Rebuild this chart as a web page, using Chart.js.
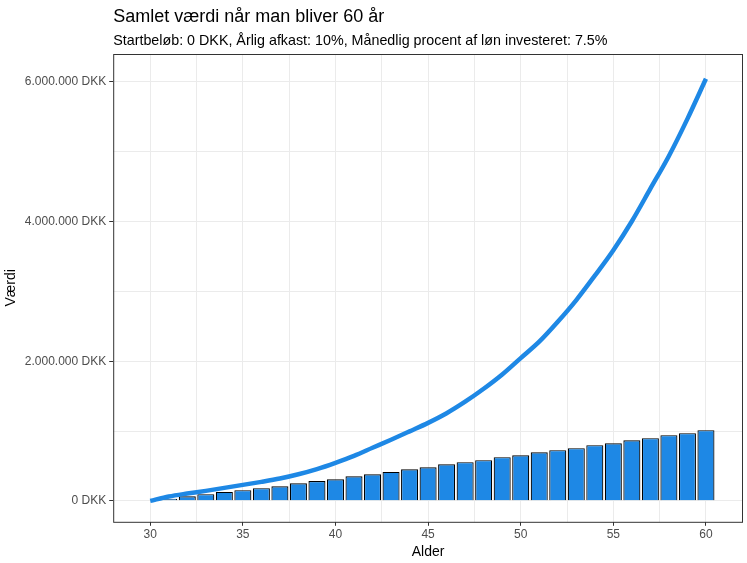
<!DOCTYPE html>
<html>
<head>
<meta charset="utf-8">
<script src="https://cdn.jsdelivr.net/npm/chart.js@4/dist/chart.umd.min.js"></script>
<style>
  body { margin: 0; background: #fff; }
  #wrap { width: 747px; height: 563px; position: relative; }
</style>
</head>
<body>
<div id="wrap"><canvas id="valueChart"></canvas></div>
<script>
// ages on the x axis
const ages = [30, 31, 32, 33, 34, 35, 36, 37, 38, 39, 40, 41, 42, 43, 44, 45,
              46, 47, 48, 49, 50, 51, 52, 53, 54, 55, 56, 57, 58, 59, 60];

// amount paid in (bars)
const paidIn = [0, 29000, 67000, 96000, 128000, 153000, 182000, 210000, 253000, 284000,
                310000, 353000, 382000, 415000, 453000, 482000, 525000, 554000, 583000,
                626000, 654000, 697000, 726000, 755000, 798000, 826000, 869000, 898000,
                941000, 970000, 1013000];

// total value with returns (line)
const totalValue = [0, 62000, 105000, 143000, 186000, 229000, 272000, 320000, 381000, 455000,
                    545000, 645000, 760000, 875000, 995000, 1117000, 1255000, 1420000, 1605000,
                    1810000, 2045000, 2280000, 2565000, 2876000, 3225000, 3590000, 4005000,
                    4471000, 4940000, 5471000, 6045000];

const yTicks = [0, 2000000, 4000000, 6000000];
const xTicks = [30, 35, 40, 45, 50, 55, 60];

const blue = '#1E88E5';

function dkk(v) {
    return String(v).replace(/\B(?=(\d{3})+(?!\d))/g, '.') + ' DKK';
}

// title, subtitle and the panel border, ggplot style
const frame = {
    id: 'frame',
    afterDraw(chart) {
        const { ctx, chartArea: a } = chart;
        ctx.save();
        ctx.strokeStyle = '#333333';
        ctx.lineWidth = 1;
        ctx.strokeRect(a.left + 0.5, a.top + 0.5, a.right - a.left - 1, a.bottom - a.top);
        ctx.fillStyle = '#000';
        ctx.textBaseline = 'alphabetic';
        ctx.font = '18px "Liberation Sans", Arial, sans-serif';
        ctx.fillText('Samlet værdi når man bliver 60 år', a.left, 22);
        ctx.font = '14.3px "Liberation Sans", Arial, sans-serif';
        ctx.fillText('Startbeløb: 0 DKK, Årlig afkast: 10%, Månedlig procent af løn investeret: 7.5%', a.left, 45);
        ctx.restore();
    }
};

document.addEventListener("DOMContentLoaded", function () {
    const ctx = document.getElementById('valueChart').getContext('2d');

    new Chart(ctx, {
        data: {
            datasets: [{
                type: 'line',
                label: 'Værdi',
                data: ages.map((a, i) => ({ x: a, y: totalValue[i] })),
                borderColor: blue,
                borderWidth: 4.5,
                pointRadius: 0,
                cubicInterpolationMode: 'monotone',
                order: 0
            }, {
                type: 'bar',
                label: 'Indbetalt',
                data: ages.map((a, i) => ({ x: a, y: paidIn[i] })),
                backgroundColor: blue,
                borderColor: '#000',
                borderWidth: 1.2,
                barPercentage: 0.92,
                categoryPercentage: 1,
                grouped: false,
                order: 1
            }]
        },
        options: {
            responsive: true,
            maintainAspectRatio: false,
            animation: false,
            layout: { padding: { top: 54, right: 4, left: 3, bottom: 2 } },
            plugins: {
                legend: { display: false },
                tooltip: { enabled: false }
            },
            scales: {
                x: {
                    type: 'linear',
                    offset: false,
                    min: 28,
                    max: 62,
                    afterBuildTicks(axis) {
                        const t = [];
                        for (let v = 30; v <= 60; v += 2.5) t.push({ value: v });
                        axis.ticks = t;
                    },
                    ticks: {
                        autoSkip: false,
                        maxRotation: 0,
                        padding: 2,
                        color: '#4D4D4D',
                        font: { family: '"Liberation Sans", Arial, sans-serif', size: 12 },
                        callback: v => xTicks.includes(v) ? String(v) : ''
                    },
                    grid: {
                        offset: false,
                        color: '#EBEBEB',
                        lineWidth: 1,
                        tickLength: 4,
                        tickColor: c => (c.tick && xTicks.includes(c.tick.value)) ? '#333333' : 'rgba(0,0,0,0)'
                    },
                    border: { display: false },
                    title: {
                        display: true,
                        text: 'Alder',
                        color: '#000',
                        padding: { top: 0, bottom: 0 },
                        font: { family: '"Liberation Sans", Arial, sans-serif', size: 14 }
                    }
                },
                y: {
                    min: -300000,
                    max: 6400000,
                    afterBuildTicks(axis) {
                        const t = [];
                        for (let v = 0; v <= 6000000; v += 1000000) t.push({ value: v });
                        axis.ticks = t;
                    },
                    ticks: {
                        autoSkip: false,
                        padding: 3,
                        color: '#4D4D4D',
                        font: { family: '"Liberation Sans", Arial, sans-serif', size: 12 },
                        callback: v => yTicks.includes(v) ? dkk(v) : ''
                    },
                    grid: {
                        color: '#EBEBEB',
                        lineWidth: 1,
                        tickLength: 4,
                        tickColor: c => (c.tick && yTicks.includes(c.tick.value)) ? '#333333' : 'rgba(0,0,0,0)'
                    },
                    border: { display: false },
                    title: {
                        display: true,
                        text: 'Værdi',
                        color: '#000',
                        padding: { top: 0, bottom: 2 },
                        font: { family: '"Liberation Sans", Arial, sans-serif', size: 14 }
                    }
                }
            }
        },
        plugins: [frame]
    });
});
</script>
</body>
</html>
